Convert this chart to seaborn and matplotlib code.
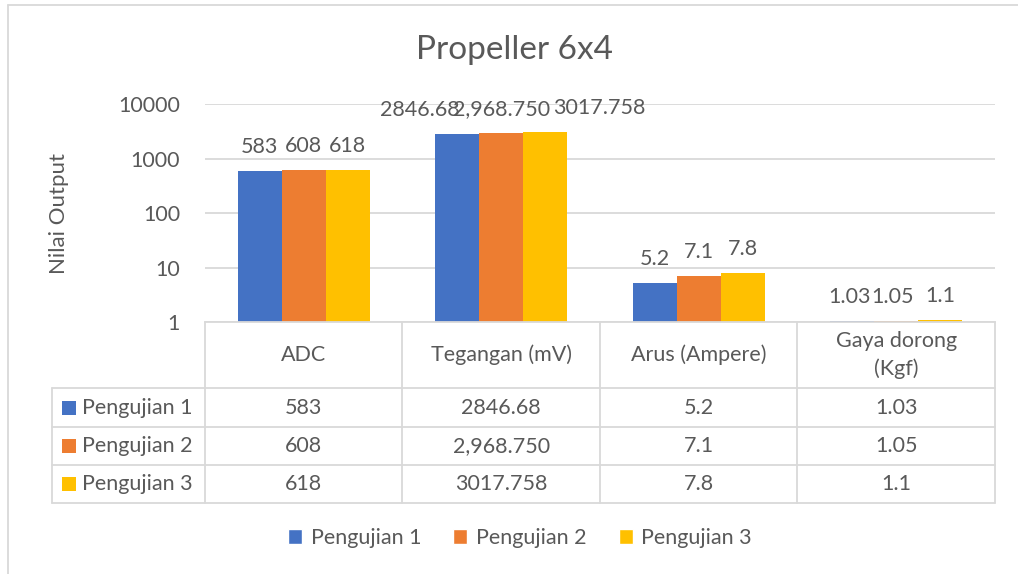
"""Propeller 6x4 - bar chart with Excel-style data table below."""

import matplotlib.pyplot as plt
import pandas as pd
import seaborn as sns
from matplotlib.patches import Patch, Rectangle
from matplotlib.ticker import NullLocator

# data
categories = ["ADC", "Tegangan (mV)", "Arus (Ampere)", "Gaya dorong (Kgf)"]
header_labels = ["ADC", "Tegangan (mV)", "Arus (Ampere)", "Gaya dorong\n(Kgf)"]
series = ["Pengujian 1", "Pengujian 2", "Pengujian 3"]
pengujian_1 = [583, 2846.68, 5.2, 1.03]
pengujian_2 = [608, 2968.75, 7.1, 1.05]
pengujian_3 = [618, 3017.758, 7.8, 1.1]
text_1 = ["583", "2846.68", "5.2", "1.03"]
text_2 = ["608", "2,968.750", "7.1", "1.05"]
text_3 = ["618", "3017.758", "7.8", "1.1"]
y_ticks = [1, 10, 100, 1000, 10000]

colors = ["#4472C4", "#ED7D31", "#FFC000"]
text_color = "#595959"
grid_color = "#D9D9D9"
fs = 15.5

sns.set_theme(style="white")
plt.rcParams["font.family"] = ["Lato", "DejaVu Sans"]

W, H = 1018, 574
fig = plt.figure(figsize=(W / 100, H / 100), dpi=100)
fig.patch.set_facecolor("white")

# bar area in pixels: x 205..995, y 104..322
ax = fig.add_axes([205 / W, 1 - 322 / H, 790 / W, 218 / H])

df = pd.DataFrame({
    "Kategori": categories * 3,
    "Nilai": pengujian_1 + pengujian_2 + pengujian_3,
    "Seri": [s for s in series for _ in categories],
})
sns.barplot(data=df, x="Kategori", y="Nilai", hue="Seri", palette=colors,
            width=0.67, saturation=1, legend=False, ax=ax, linewidth=0,
            errorbar=None)
ax.set_yscale("log")
ax.set_ylim(1, 10000)
ax.set_xlim(-0.5, 3.5)
ax.set_yticks(y_ticks)
ax.set_yticklabels([str(t) for t in y_ticks])
ax.yaxis.set_minor_locator(NullLocator())
ax.set_xticks([])
ax.set_xlabel("")
ax.tick_params(axis="y", length=0, pad=18, labelsize=fs, labelcolor=text_color)
ax.yaxis.grid(True, color=grid_color, lw=1.3)
ax.set_axisbelow(True)
for side in ["left", "right", "top"]:
    ax.spines[side].set_visible(False)
ax.spines["bottom"].set_color(grid_color)
ax.spines["bottom"].set_linewidth(1.3)
ax.set_ylabel("Nilai Output", fontsize=fs + 0.5, color=text_color)
ax.yaxis.set_label_coords(-0.172, 0.5)

# data labels (the Tegangan labels are spread apart as in the original)
label_dx = [[0, 0, 0], [-27, 0, 39], [0, 0, 0], [-2, -3, 0]]
for j, (cont, labels) in enumerate(zip(ax.containers, [text_1, text_2, text_3])):
    for i, (bar, lab) in enumerate(zip(cont, labels)):
        ax.annotate(lab, (bar.get_x() + bar.get_width() / 2, bar.get_height()),
                    xytext=(label_dx[i][j], 13), textcoords="offset points",
                    ha="center", va="baseline", fontsize=fs, color=text_color)

fig.text(515 / W, 1 - 50 / H, "Propeller 6x4", ha="center", va="center",
         fontsize=24, color=text_color)

# overlay in pixel coords for the data table
ov = fig.add_axes([0, 0, 1, 1])
ov.set_xlim(0, W)
ov.set_ylim(H, 0)
ov.axis("off")
ov.patch.set_alpha(0)

lw = 1.3
col_edges = [205 + i * 790 / 4 for i in range(5)]
row_edges = [322, 388, 427, 465, 503]
left = 52

for x in col_edges:
    ov.plot([x, x], [row_edges[0], row_edges[-1]], color=grid_color, lw=lw)
ov.plot([left, left], [row_edges[1], row_edges[-1]], color=grid_color, lw=lw)
for y in row_edges[1:]:
    ov.plot([left, col_edges[-1]], [y, y], color=grid_color, lw=lw)

col_centers = [(a + b) / 2 for a, b in zip(col_edges[:-1], col_edges[1:])]
for xc, lab in zip(col_centers, header_labels):
    ov.text(xc, (row_edges[0] + row_edges[1]) / 2, lab, ha="center", va="center",
            fontsize=fs, color=text_color, linespacing=1.5)

for r, (name, color, texts) in enumerate(zip(series, colors, [text_1, text_2, text_3])):
    yc = (row_edges[r + 1] + row_edges[r + 2]) / 2
    ov.add_patch(Rectangle((62, yc - 7), 14, 14, color=color, lw=0))
    ov.text(82, yc, name, ha="left", va="center", fontsize=fs, color=text_color)
    for xc, t in zip(col_centers, texts):
        ov.text(xc, yc, t, ha="center", va="center", fontsize=fs, color=text_color)

# chart border (left and top visible)
ov.plot([8, 8], [5, H], color=grid_color, lw=lw)
ov.plot([8, W], [5, 5], color=grid_color, lw=lw)

handles = [Patch(facecolor=c, label=s) for c, s in zip(colors, series)]
fig.legend(handles=handles, loc="center", bbox_to_anchor=(520 / W, 1 - 538 / H),
           ncol=3, frameon=False, fontsize=fs, labelcolor=text_color,
           handlelength=0.65, handleheight=0.65, handletextpad=0.4,
           columnspacing=1.5)

fig.savefig("out.png", dpi=100)
